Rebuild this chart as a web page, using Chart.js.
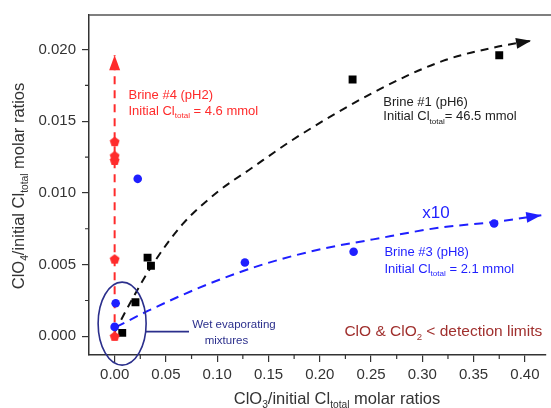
<!DOCTYPE html>
<html>
<head>
<meta charset="utf-8">
<script src="https://cdn.jsdelivr.net/npm/chart.js@4/dist/chart.umd.min.js"></script>
<style>
    body { margin: 0; background: #fff; }
</style>
</head>
<body>
<canvas id="myChart" width="551" height="408"></canvas>
<script>
// measured points (ClO3 ratio on x, ClO4 ratio on y)
const brine1X = [0.0074, 0.0203, 0.0321, 0.0354, 0.232, 0.375];
const brine1Y = [0.00024, 0.00238, 0.00549, 0.00492, 0.0179, 0.0196];
const brine3X = [0.0, 0.001, 0.0225, 0.127, 0.233, 0.370];
const brine3Y = [0.00066, 0.00231, 0.01098, 0.00515, 0.0059, 0.00787];
const brine4X = [0, 0, 0, 0, 0];
const brine4Y = [0.0000, 0.00538, 0.01226, 0.01258, 0.01357];

// hand drawn dashed guides (last point = arrow tip)
const guide1X = [0, 0.018, 0.037, 0.066, 0.101, 0.133, 0.178, 0.255, 0.32, 0.374, 0.406];
const guide1Y = [0.0003, 0.0027, 0.005, 0.0078, 0.0101, 0.0117, 0.0139, 0.0171, 0.0192, 0.0202, 0.0206];
const guide3X = [0.0016, 0.037, 0.0915, 0.146, 0.2007, 0.252, 0.316, 0.371, 0.416];
const guide3Y = [0.00066, 0.00193, 0.00365, 0.00504, 0.00607, 0.00676, 0.00757, 0.00798, 0.00844];
const guide4X = [0, 0];
const guide4Y = [0.0, 0.0196];

const xTicks = [0, 0.05, 0.10, 0.15, 0.20, 0.25, 0.30, 0.35, 0.40];
const yTicks = [0, 0.005, 0.010, 0.015, 0.020];
const xMinor = [0.025, 0.075, 0.125, 0.175, 0.225, 0.275, 0.325, 0.375];
const yMinor = [0.0025, 0.0075, 0.0125, 0.0175];

const RED = "#ff2b2b";
const BLUE = "#1f1fff";
const NAVY = "#2b2f8c";
const AXIS = "#333333";
const FONT = "'Liberation Sans', Arial, sans-serif";

const pts = (xs, ys) => xs.map((x, i) => ({ x: x, y: ys[i] }));

// pentagon marker for brine #4
const penta = document.createElement("canvas");
penta.width = 11;
penta.height = 11;
(function () {
    const c = penta.getContext("2d");
    c.fillStyle = RED;
    c.beginPath();
    for (let i = 0; i < 5; i++) {
        const a = -Math.PI / 2 + i * 2 * Math.PI / 5;
        c.lineTo(5.5 + 5.2 * Math.cos(a), 5.8 + 5.2 * Math.sin(a));
    }
    c.closePath();
    c.fill();
})();

function richText(ctx, parts, x, y, size, color, align) {
    ctx.save();
    ctx.fillStyle = color;
    ctx.textBaseline = "middle";
    ctx.textAlign = "left";
    let w = 0;
    parts.forEach(p => {
        ctx.font = (p[1] ? size * 0.62 : size) + "px " + FONT;
        w += ctx.measureText(p[0]).width;
    });
    let cx = align === "center" ? x - w / 2 : x;
    parts.forEach(p => {
        ctx.font = (p[1] ? size * 0.62 : size) + "px " + FONT;
        ctx.fillText(p[0], cx, p[1] ? y + size * 0.38 : y);
        cx += ctx.measureText(p[0]).width;
    });
    ctx.restore();
}

// label anchors in data units
const notes = [
    { x: 0.0135, y: 0.01678, parts: [["Brine #4 (pH2)"]], size: 13, color: RED },
    { x: 0.0135, y: 0.0157, parts: [["Initial Cl"], ["total", 1], [" = 4.6 mmol"]], size: 13, color: RED },
    { x: 0.262, y: 0.0163, parts: [["Brine #1 (pH6)"]], size: 13, color: "#222" },
    { x: 0.262, y: 0.0153, parts: [["Initial Cl"], ["total", 1], ["= 46.5 mmol"]], size: 13, color: "#222" },
    { x: 0.263, y: 0.00583, parts: [["Brine #3 (pH8)"]], size: 13, color: BLUE },
    { x: 0.263, y: 0.00468, parts: [["Initial Cl"], ["total", 1], [" = 2.1 mmol"]], size: 13, color: BLUE },
    { x: 0.300, y: 0.00860, parts: [["x10"]], size: 17, color: BLUE },
    { x: 0.0756, y: 0.00077, parts: [["Wet evaporating"]], size: 11.5, color: NAVY },
    { x: 0.109, y: -0.00031, parts: [["mixtures"]], size: 11.5, color: NAVY, align: "center" },
    { x: 0.224, y: 0.00032, parts: [["ClO & ClO"], ["2", 1], [" < detection limits"]], size: 15.5, color: "#a0302e" },
];

const decorations = {
    id: "decorations",
    afterDatasetsDraw(chart) {
        const ctx = chart.ctx;
        const xs = chart.scales.x, ys = chart.scales.y;
        const area = chart.chartArea;
        ctx.save();
        // top frame line
        ctx.strokeStyle = "#555";
        ctx.lineWidth = 1.5;
        ctx.beginPath();
        ctx.moveTo(area.left, area.top);
        ctx.lineTo(chart.width, area.top);
        ctx.stroke();
        // minor ticks
        ctx.strokeStyle = AXIS;
        ctx.lineWidth = 1.2;
        ctx.beginPath();
        xMinor.forEach(v => {
            const px = xs.getPixelForValue(v);
            ctx.moveTo(px, area.bottom);
            ctx.lineTo(px, area.bottom + 4);
        });
        yMinor.forEach(v => {
            const py = ys.getPixelForValue(v);
            ctx.moveTo(area.left, py);
            ctx.lineTo(area.left - 4, py);
        });
        ctx.stroke();
        // arrow heads on the guides
        chart.data.datasets.forEach((ds, i) => {
            if (!ds.arrow) return;
            const els = chart.getDatasetMeta(i).data;
            const a = els[els.length - 1], b = els[els.length - 2];
            const ang = Math.atan2(a.y - b.y, a.x - b.x);
            ctx.save();
            ctx.translate(a.x, a.y);
            ctx.rotate(ang);
            ctx.fillStyle = ds.borderColor;
            ctx.beginPath();
            ctx.moveTo(0, 0);
            ctx.lineTo(-15, -5.5);
            ctx.lineTo(-15, 5.5);
            ctx.closePath();
            ctx.fill();
            ctx.restore();
        });
        // "wet evaporating mixtures" ellipse and leader
        ctx.strokeStyle = NAVY;
        ctx.lineWidth = 1.6;
        const ex = xs.getPixelForValue(0.0073), ey = ys.getPixelForValue(0.00089);
        ctx.beginPath();
        ctx.ellipse(ex, ey, 24, 41.5, 0, 0, 2 * Math.PI);
        ctx.stroke();
        ctx.beginPath();
        ctx.moveTo(ex + 23.5, ys.getPixelForValue(0.00033));
        ctx.lineTo(xs.getPixelForValue(0.0725), ys.getPixelForValue(0.00033));
        ctx.stroke();
        // text labels
        notes.forEach(n => {
            richText(ctx, n.parts, xs.getPixelForValue(n.x), ys.getPixelForValue(n.y), n.size, n.color, n.align);
        });
        // axis titles
        richText(ctx, [["ClO"], ["3", 1], ["/initial Cl"], ["total", 1], [" molar ratios"]],
            337, 399, 16.5, AXIS, "center");
        ctx.translate(19, 186);
        ctx.rotate(-Math.PI / 2);
        richText(ctx, [["ClO"], ["4", 1], ["/initial Cl"], ["total", 1], [" molar ratios"]],
            0, 0, 16.5, AXIS, "center");
        ctx.restore();
    },
};

const myChart = new Chart(document.getElementById("myChart"), {
    type: "scatter",
    data: {
        datasets: [
            {
                label: "Brine #4",
                data: pts(brine4X, brine4Y),
                pointStyle: penta,
                order: 0,
            },
            {
                label: "Brine #1",
                data: pts(brine1X, brine1Y),
                pointStyle: "rect",
                pointRadius: 5.6,
                backgroundColor: "#000",
                borderColor: "#000",
                borderWidth: 0,
                order: 0,
            },
            {
                label: "Brine #3",
                data: pts(brine3X, brine3Y),
                pointStyle: "circle",
                pointRadius: 4.3,
                backgroundColor: BLUE,
                borderColor: BLUE,
                borderWidth: 0,
                order: 0,
            },
            {
                data: pts(guide4X, guide4Y),
                showLine: true,
                borderColor: RED,
                borderWidth: 2,
                borderDash: [8, 6],
                pointRadius: 0,
                arrow: true,
                order: 1,
            },
            {
                data: pts(guide1X, guide1Y),
                showLine: true,
                borderColor: "#111",
                borderWidth: 2,
                borderDash: [8, 6],
                cubicInterpolationMode: "monotone",
                pointRadius: 0,
                arrow: true,
                order: 1,
            },
            {
                data: pts(guide3X, guide3Y),
                showLine: true,
                borderColor: BLUE,
                borderWidth: 2,
                borderDash: [9, 6],
                cubicInterpolationMode: "monotone",
                pointRadius: 0,
                arrow: true,
                order: 1,
            },
        ],
    },
    options: {
        responsive: false,
        animation: false,
        devicePixelRatio: 1,
        layout: {
            padding: { top: 12, right: 0, left: 0, bottom: 0 },
        },
        plugins: {
            legend: { display: false },
            tooltip: { enabled: false },
        },
        scales: {
            x: {
                type: "linear",
                min: -0.025,
                max: 0.42,
                afterBuildTicks: (s) => { s.ticks = xTicks.map(v => ({ value: v })); },
                afterFit: (s) => { s.height = 53; },
                grid: {
                    display: true,
                    drawOnChartArea: false,
                    drawTicks: true,
                    tickLength: 7,
                    color: AXIS,
                    lineWidth: 1.2,
                },
                border: { display: true, color: AXIS, width: 1.5 },
                ticks: {
                    padding: 4,
                    color: AXIS,
                    font: { family: FONT, size: 15 },
                    callback: (v) => v.toFixed(2),
                },
            },
            y: {
                type: "linear",
                min: -0.0013,
                max: 0.0224,
                afterBuildTicks: (s) => { s.ticks = yTicks.map(v => ({ value: v })); },
                afterFit: (s) => { s.width = 89; },
                grid: {
                    display: true,
                    drawOnChartArea: false,
                    drawTicks: true,
                    tickLength: 7,
                    color: AXIS,
                    lineWidth: 1.2,
                },
                border: { display: true, color: AXIS, width: 1.5 },
                ticks: {
                    padding: 6,
                    color: AXIS,
                    font: { family: FONT, size: 15 },
                    callback: (v) => v.toFixed(3),
                },
            },
        },
    },
    plugins: [decorations],
});
</script>
</body>
</html>
